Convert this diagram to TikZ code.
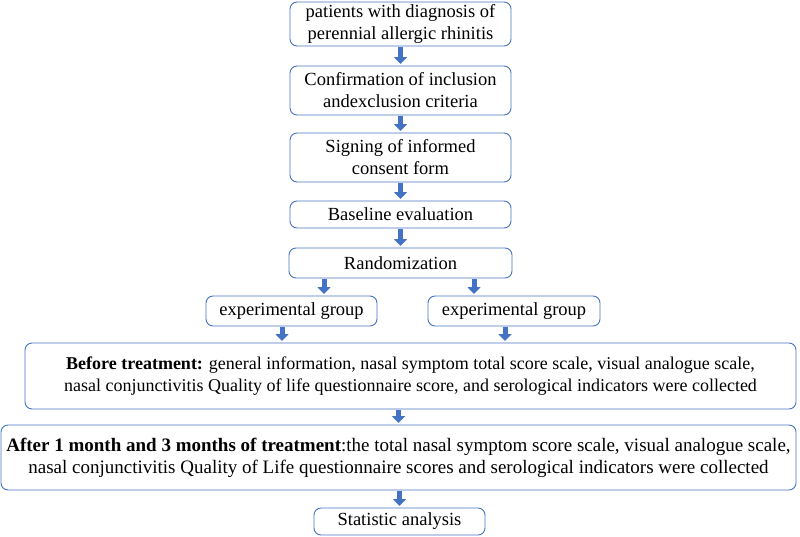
\documentclass[tikz,border=0pt]{standalone}
\usepackage{fontspec}
\setmainfont{Liberation Serif}
\usetikzlibrary{positioning, arrows.meta}
\definecolor{lineblue}{RGB}{68,114,196}

\begin{document}
\begin{tikzpicture}[x=1pt, y=1pt, node distance=18pt]
        \tikzset{box/.style={draw=lineblue, line width=0.9pt, rounded corners=7pt, fill=white,
                align=center, inner sep=0pt, outer sep=0pt, font=\fontsize{18.5}{22}\selectfont}}
        \tikzset{flow/.style={draw=lineblue, line width=5pt, -{Triangle[width=13pt,length=7pt]},
                shorten <=1pt, shorten >=2pt}}
        \useasboundingbox (0,0) rectangle (800,-536);

        \node[box, minimum width=221pt, minimum height=44pt] (diag) at (400.5,-24) {patients with diagnosis of\\perennial allergic rhinitis};
        \node[box, minimum width=221pt, minimum height=49pt] (crit) [below=20pt of diag] {Confirmation of inclusion\\andexclusion criteria};
        \node[box, minimum width=221pt, minimum height=49pt] (consent) [below=18pt of crit] {Signing of informed\\consent form};
        \node[box, minimum width=221pt, minimum height=27pt] (base) [below=19pt of consent] {Baseline evaluation};
        \node[box, minimum width=223pt, minimum height=30pt] (rand) [below=20pt of base] {Randomization};
        \node[box, minimum width=171pt, minimum height=30pt] (grpA) [below=18pt of rand, xshift=-109pt] {experimental group};
        \node[box, minimum width=172pt, minimum height=30pt] (grpB) [below=18pt of rand, xshift=113.5pt] {experimental group};
        \node[box, minimum width=771pt, minimum height=66pt, font=\fontsize{18}{22}\selectfont] (before) [below=17pt of grpA, xshift=119pt]
                {\textbf{Before treatment:} general information, nasal symptom total score scale, visual analogue scale,\\
                nasal conjunctivitis Quality of life questionnaire score, and serological indicators were collected};
        \node[box, minimum width=795pt, minimum height=65pt, font=\fontsize{19}{22}\selectfont] (after) [below=16pt of before, xshift=-12pt]
                {\textbf{After 1 month and 3 months of treatment}:the total nasal symptom score scale, visual analogue scale,\\
                nasal conjunctivitis Quality of Life questionnaire scores and serological indicators were collected};
        \node[box, minimum width=171pt, minimum height=27pt] (stat) [below=18pt of after, xshift=1pt] {Statistic analysis};

        \draw[flow] (diag) -- (crit);
        \draw[flow] (crit) -- (consent);
        \draw[flow] (consent) -- (base);
        \draw[flow] (base) -- (rand);
        \draw[flow] ([xshift=35pt]rand.south west) -- ([xshift=35pt]rand.south west |- grpA.north);
        \draw[flow] ([xshift=-38pt]rand.south east) -- ([xshift=-38pt]rand.south east |- grpB.north);
        \draw[flow] ([xshift=-9.5pt]grpA.south) -- ([xshift=-9.5pt]grpA.south |- before.north);
        \draw[flow] ([xshift=-9pt]grpB.south) -- ([xshift=-9pt]grpB.south |- before.north);
        \draw[flow] (after.north |- before.south) -- (after.north);
        \draw[flow] (stat.north |- after.south) -- (stat.north);
\end{tikzpicture}
\end{document}
